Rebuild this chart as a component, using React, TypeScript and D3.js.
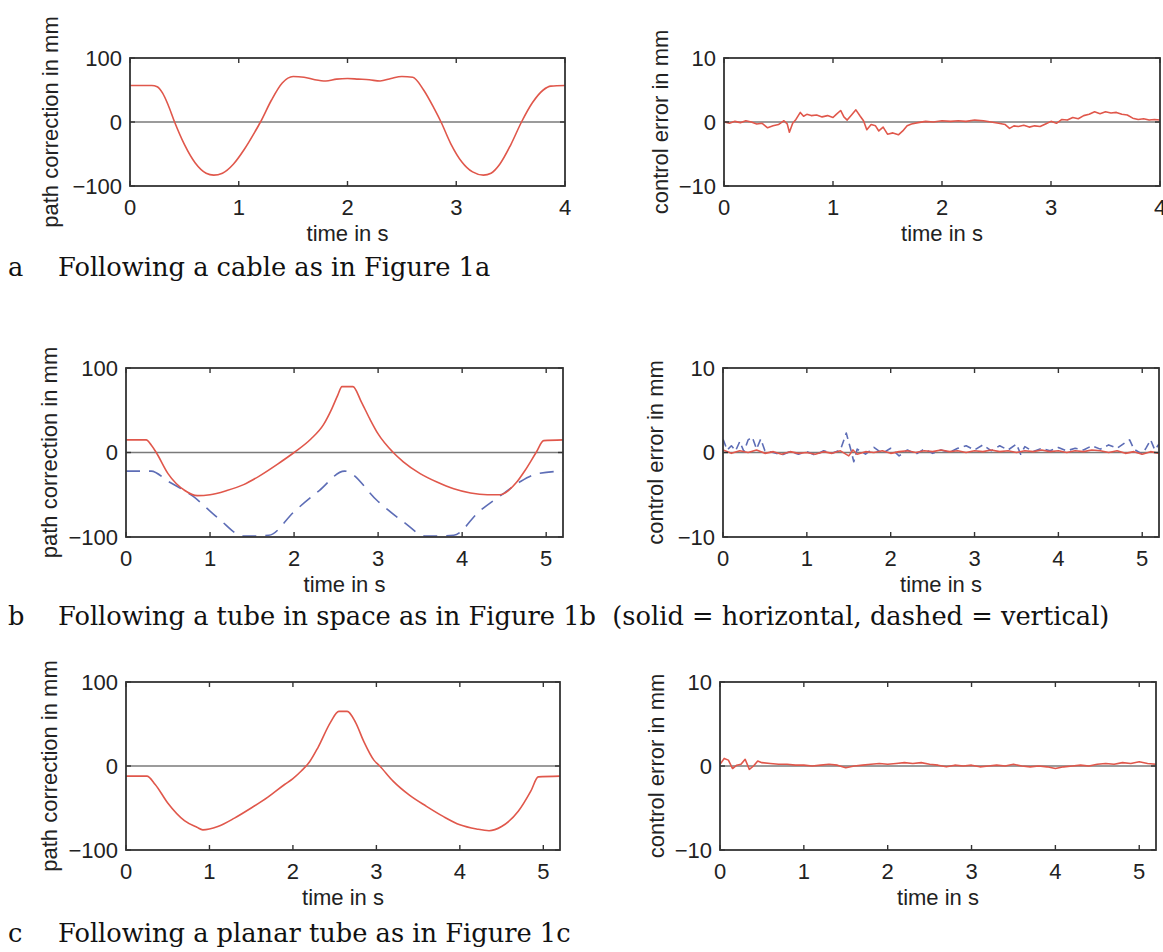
import * as d3 from "d3";
import React from "react";

// ---- data (time in s, value in mm) ----
const aPath: [number, number][] = [
  [0, 57], [0.2, 57], [0.25, 55], [0.3, 45], [0.35, 27], [0.41, 0], [0.5, -35],
  [0.6, -64], [0.7, -80], [0.77, -83], [0.85, -80], [0.95, -66], [1.05, -43],
  [1.15, -15], [1.2, 0], [1.3, 34], [1.4, 61], [1.5, 71], [1.6, 70], [1.7, 66],
  [1.8, 64], [1.9, 67], [2.0, 68], [2.1, 67], [2.2, 66], [2.3, 64], [2.4, 68],
  [2.5, 71], [2.6, 70], [2.7, 50], [2.8, 20], [2.86, 0], [2.95, -34], [3.05, -62],
  [3.15, -78], [3.25, -83], [3.32, -80], [3.4, -66], [3.5, -36], [3.6, 0],
  [3.7, 30], [3.8, 50], [3.87, 56], [4.0, 57],
];

const aError: [number, number][] = [
  [0, 0], [0.05, -0.2], [0.1, 0.1], [0.15, -0.1], [0.2, 0.2], [0.25, 0], [0.3, -0.3],
  [0.35, -0.2], [0.4, -0.9], [0.45, -0.6], [0.5, -0.4], [0.55, 0.2], [0.58, -0.3],
  [0.6, -1.6], [0.63, -0.2], [0.66, 0.4], [0.7, 1.5], [0.73, 0.9], [0.76, 1.2],
  [0.8, 1.0], [0.85, 1.1], [0.9, 0.8], [0.95, 1.0], [1.0, 0.7], [1.03, 1.2],
  [1.07, 1.8], [1.1, 0.8], [1.13, 0.3], [1.17, 1.1], [1.21, 1.9], [1.25, 0.9],
  [1.28, 0.2], [1.31, -1.2], [1.35, -0.4], [1.39, -0.6], [1.42, -1.4], [1.46, -0.8],
  [1.5, -1.9], [1.55, -1.7], [1.6, -2.0], [1.64, -1.4], [1.68, -0.6], [1.72, -0.3],
  [1.78, -0.1], [1.85, 0.1], [1.92, 0], [2.0, 0.2], [2.08, 0.1], [2.15, 0.2],
  [2.22, 0.1], [2.3, 0.3], [2.38, 0.2], [2.45, 0], [2.52, -0.2], [2.58, -0.4],
  [2.62, -1.0], [2.66, -0.6], [2.7, -0.7], [2.75, -0.5], [2.8, -0.8], [2.85, -0.6],
  [2.9, -0.7], [2.95, -0.3], [3.0, 0.1], [3.05, -0.2], [3.1, 0.4], [3.15, 0.3],
  [3.2, 0.7], [3.25, 0.5], [3.3, 1.0], [3.35, 1.2], [3.4, 1.6], [3.45, 1.3],
  [3.5, 1.6], [3.55, 1.4], [3.6, 1.5], [3.65, 1.2], [3.7, 1.1], [3.75, 0.6],
  [3.8, 0.4], [3.85, 0.5], [3.9, 0.3], [3.95, 0.4], [4.0, 0.3],
];

const bPathH: [number, number][] = [
  [0, 15], [0.24, 15], [0.3, 9], [0.36, 0], [0.5, -25], [0.7, -45], [0.85, -51],
  [1.0, -50], [1.2, -45], [1.4, -38], [1.6, -27], [1.8, -14], [2.0, 0], [2.2, 16],
  [2.35, 33], [2.45, 52], [2.52, 68], [2.57, 78], [2.7, 78], [2.8, 60], [2.9, 40],
  [3.0, 22], [3.18, 0], [3.3, -11], [3.5, -25], [3.7, -35], [3.9, -43], [4.1, -48],
  [4.3, -50], [4.45, -50], [4.55, -45], [4.65, -35], [4.75, -21], [4.88, 0],
  [4.97, 14], [5.2, 15],
];

const bPathV: [number, number][] = [
  [0, -22], [0.3, -22], [0.5, -34], [0.8, -52], [1.1, -78], [1.4, -99], [1.7, -98],
  [2.0, -70], [2.3, -45], [2.6, -22], [3.0, -58], [3.3, -82], [3.57, -99],
  [3.9, -98], [4.2, -70], [4.5, -48], [4.7, -34], [4.9, -25], [5.2, -22],
];

const bErrorH: [number, number][] = [
  [0, 0.3], [0.1, -0.1], [0.2, 0.2], [0.3, 0], [0.4, 0.3], [0.5, -0.1], [0.6, 0.1],
  [0.7, -0.2], [0.8, 0.1], [0.9, -0.1], [1.0, 0], [1.1, -0.2], [1.2, 0.1], [1.3, -0.1],
  [1.4, 0.2], [1.5, -0.4], [1.55, 0.3], [1.6, -0.2], [1.7, 0.1], [1.8, 0], [1.9, 0.2],
  [2.0, -0.1], [2.1, 0.1], [2.2, 0.2], [2.3, 0], [2.4, 0.2], [2.5, 0.1], [2.6, 0.3],
  [2.7, 0.1], [2.8, 0.2], [2.9, 0], [3.0, 0.2], [3.1, 0.1], [3.2, 0.3], [3.3, 0.1],
  [3.4, 0.2], [3.5, 0], [3.6, 0.2], [3.7, 0.1], [3.8, 0.3], [3.9, 0.1], [4.0, 0.2],
  [4.1, 0], [4.2, 0.2], [4.3, 0.1], [4.4, 0.3], [4.5, 0.2], [4.6, 0], [4.7, 0.2],
  [4.8, -0.1], [4.9, 0.1], [5.0, -0.2], [5.1, 0.1], [5.2, -0.1],
];

const bErrorV: [number, number][] = [
  [0, 1.6], [0.05, 0.3], [0.1, 0.8], [0.15, 0.2], [0.2, 1.3], [0.25, 0.1], [0.3, 1.5],
  [0.35, 1.8], [0.4, 0.4], [0.45, 1.6], [0.5, 0.2], [0.6, 0], [0.7, -0.3], [0.8, 0.1],
  [0.9, -0.2], [1.0, 0.1], [1.1, -0.3], [1.2, 0.2], [1.3, -0.1], [1.4, 0.3],
  [1.47, 2.3], [1.52, 0.5], [1.56, -1.1], [1.6, 0.4], [1.7, -0.2], [1.8, 0.6],
  [1.9, -0.1], [2.0, 0.5], [2.1, -0.4], [2.2, 0.3], [2.3, -0.2], [2.4, 0.4],
  [2.5, -0.1], [2.6, 0.3], [2.7, 0], [2.8, 0.5], [2.9, 0.8], [3.0, 0.3], [3.1, 0.9],
  [3.2, 0.2], [3.3, 0.8], [3.4, 0.3], [3.5, 1.0], [3.55, -0.2], [3.6, 0.7], [3.7, 0.1],
  [3.8, 0.5], [3.9, 0.2], [4.0, 0.6], [4.1, 0.2], [4.2, 0.5], [4.3, 0.3], [4.4, 0.8],
  [4.5, 0.4], [4.6, 0.9], [4.7, 0.5], [4.8, 1.2], [4.85, 1.5], [4.9, 0.4], [5.0, -0.2],
  [5.05, 0.6], [5.1, 1.5], [5.15, 0.3], [5.2, 1.0],
];

const cPath: [number, number][] = [
  [0, -12], [0.25, -12], [0.35, -22], [0.5, -44], [0.7, -65], [0.85, -73], [0.92, -76],
  [1.1, -72], [1.3, -62], [1.5, -50], [1.7, -37], [1.9, -22], [2.0, -15], [2.1, -6],
  [2.2, 5], [2.3, 22], [2.45, 52], [2.55, 65], [2.65, 65], [2.75, 52], [2.85, 29],
  [2.97, 7], [3.04, 0], [3.2, -18], [3.4, -35], [3.6, -48], [3.8, -60], [4.0, -70],
  [4.2, -75], [4.35, -77], [4.5, -72], [4.7, -54], [4.85, -30], [4.94, -13], [5.2, -12],
];

const cError: [number, number][] = [
  [0, 0.2], [0.05, 0.9], [0.1, 0.7], [0.15, -0.3], [0.2, 0.1], [0.25, 0.2], [0.3, 0.8],
  [0.35, -0.4], [0.4, 0], [0.45, 0.6], [0.5, 0.4], [0.6, 0.3], [0.7, 0.2], [0.8, 0.2],
  [0.9, 0.1], [1.0, 0.1], [1.1, 0], [1.2, 0.1], [1.3, 0.2], [1.4, 0.1], [1.5, -0.2],
  [1.6, 0], [1.7, 0.1], [1.8, 0.2], [1.9, 0.3], [2.0, 0.2], [2.1, 0.3], [2.2, 0.4],
  [2.3, 0.3], [2.4, 0.4], [2.5, 0.2], [2.6, 0.1], [2.7, -0.1], [2.8, 0.1], [2.9, 0],
  [3.0, 0.1], [3.1, -0.1], [3.2, 0], [3.3, 0.1], [3.4, 0], [3.5, 0.2], [3.6, 0],
  [3.7, -0.1], [3.8, 0], [3.9, -0.1], [4.0, -0.3], [4.1, -0.1], [4.2, 0], [4.3, 0.1],
  [4.4, 0], [4.5, 0.2], [4.6, 0.3], [4.7, 0.2], [4.8, 0.4], [4.9, 0.3], [5.0, 0.5],
  [5.1, 0.3], [5.2, 0.2],
];

const ticks4 = [0, 1, 2, 3, 4];
const ticks5 = [0, 1, 2, 3, 4, 5];
const pathTicks = [-100, 0, 100];
const errorTicks = [-10, 0, 10];

const captions = [
  { letter: "a", text: "Following a cable as in Figure 1a" },
  { letter: "b", text: "Following a tube in space as in Figure 1b  (solid = horizontal, dashed = vertical)" },
  { letter: "c", text: "Following a planar tube as in Figure 1c" },
];

const RED = "#e0574b";
const BLUE = "#5d6db6";
const SANS = "'Liberation Sans', Arial, Helvetica, sans-serif";
const SERIF = "'Palatino Linotype', 'Book Antiqua', Palatino, 'DejaVu Serif', serif";

type Series = { data: [number, number][]; color: string; dash?: string; smooth?: boolean };

type PanelProps = {
  left: number;
  top: number;
  width: number;
  height: number;
  xMax: number;
  xTicks: number[];
  yTicks: number[];
  yLabel: string;
  yLabelGap: number;
  series: Series[];
};

const Panel = ({ left, top, width, height, xMax, xTicks, yTicks, yLabel, yLabelGap, series }: PanelProps) => {
  const yMax = yTicks[yTicks.length - 1];
  const x = d3.scaleLinear([0, xMax], [left, left + width]);
  const y = d3.scaleLinear([-yMax, yMax], [top + height, top]);
  const clipId = `clip-${left}-${top}`;

  return (
    <g>
      <defs>
        <clipPath id={clipId}>
          <rect x={left} y={top} width={width} height={height} />
        </clipPath>
      </defs>
      {/* zero line */}
      <line x1={left} x2={left + width} y1={y(0)} y2={y(0)} stroke="#7a7a7a" strokeWidth={1.6} />
      <g clipPath={`url(#${clipId})`}>
        {series.map((s, i) => {
          const line = d3
            .line<[number, number]>()
            .x((d) => x(d[0]))
            .y((d) => y(d[1]))
            .curve(s.smooth ? d3.curveMonotoneX : d3.curveLinear);
          return (
            <path
              key={i}
              d={line(s.data) || ""}
              fill="none"
              stroke={s.color}
              strokeWidth={1.6}
              strokeDasharray={s.dash}
              strokeLinejoin="round"
            />
          );
        })}
      </g>
      {/* box */}
      <rect x={left} y={top} width={width} height={height} fill="none" stroke="#333" strokeWidth={1.8} />
      {/* inward ticks */}
      {xTicks.map((t) => (
        <g key={`xt${t}`} stroke="#333" strokeWidth={1.4}>
          <line x1={x(t)} x2={x(t)} y1={top + height} y2={top + height - 5} />
          <line x1={x(t)} x2={x(t)} y1={top} y2={top + 5} />
        </g>
      ))}
      {yTicks.map((t) => (
        <g key={`yt${t}`} stroke="#333" strokeWidth={1.4}>
          <line x1={left} x2={left + 5} y1={y(t)} y2={y(t)} />
          <line x1={left + width} x2={left + width - 5} y1={y(t)} y2={y(t)} />
        </g>
      ))}
      {/* tick labels */}
      {xTicks.map((t) => (
        <text key={`xl${t}`} x={x(t)} y={top + height + 29} textAnchor="middle" fontFamily={SANS} fontSize={22} fill="#222">
          {t}
        </text>
      ))}
      {yTicks.map((t) => (
        <text key={`yl${t}`} x={left - 8} y={y(t)} dy="0.36em" textAnchor="end" fontFamily={SANS} fontSize={22} fill="#222">
          {t < 0 ? `\u2212${-t}` : t}
        </text>
      ))}
      <text x={left + width / 2} y={top + height + 55} textAnchor="middle" fontFamily={SANS} fontSize={22} fill="#222">
        time in s
      </text>
      <text
        transform={`translate(${left - yLabelGap}, ${top + height / 2}) rotate(-90)`}
        textAnchor="middle"
        dy="0.35em"
        fontFamily={SANS}
        fontSize={22}
        fill="#222"
      >
        {yLabel}
      </text>
    </g>
  );
};

const captionY = [276, 625, 942];

export default function App() {
  return (
    <svg
      width={1163}
      height={952}
      viewBox="0 0 1163 952"
      style={{ position: "absolute", left: 0, top: 0, background: "#fff" }}
    >
      <rect width={1163} height={952} fill="#fff" />
      <Panel left={130} top={58} width={435} height={128} xMax={4} xTicks={ticks4} yTicks={pathTicks}
        yLabel="path correction in mm" yLabelGap={80} series={[{ data: aPath, color: RED, smooth: true }]} />
      <Panel left={724} top={58} width={436} height={128} xMax={4} xTicks={ticks4} yTicks={errorTicks}
        yLabel="control error in mm" yLabelGap={64} series={[{ data: aError, color: RED }]} />
      <Panel left={126} top={368} width={437} height={169} xMax={5.2} xTicks={ticks5} yTicks={pathTicks}
        yLabel="path correction in mm" yLabelGap={77}
        series={[
          { data: bPathV, color: BLUE, dash: "14,9", smooth: true },
          { data: bPathH, color: RED, smooth: true },
        ]} />
      <Panel left={723} top={368} width={436} height={169} xMax={5.2} xTicks={ticks5} yTicks={errorTicks}
        yLabel="control error in mm" yLabelGap={68}
        series={[{ data: bErrorV, color: BLUE, dash: "8,5" }, { data: bErrorH, color: RED }]} />
      <Panel left={126} top={682} width={434} height={168} xMax={5.2} xTicks={ticks5} yTicks={pathTicks}
        yLabel="path correction in mm" yLabelGap={77} series={[{ data: cPath, color: RED, smooth: true }]} />
      <Panel left={720} top={682} width={436} height={168} xMax={5.2} xTicks={ticks5} yTicks={errorTicks}
        yLabel="control error in mm" yLabelGap={64} series={[{ data: cError, color: RED }]} />
      {captions.map((c, i) => (
        <g key={c.letter} fontFamily={SERIF} fontSize={25.7} fill="#111">
          <text x={8} y={captionY[i]}>{c.letter}</text>
          <text x={58} y={captionY[i]} style={{ whiteSpace: "pre" }}>{c.text}</text>
        </g>
      ))}
    </svg>
  );
}
